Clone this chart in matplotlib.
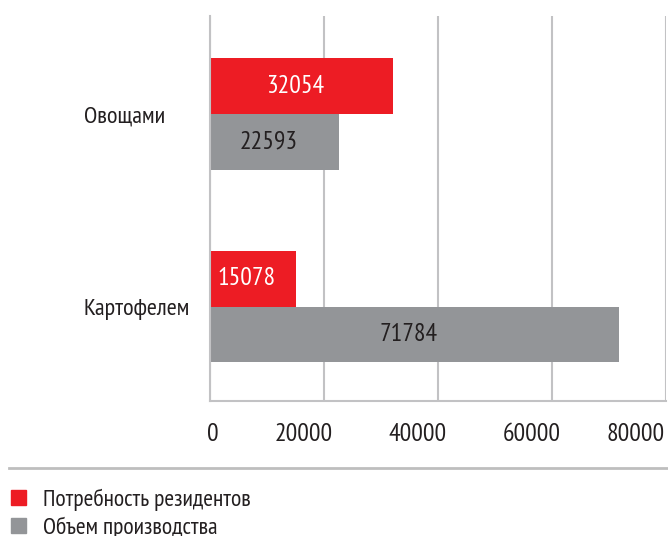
import matplotlib
matplotlib.use("Agg")
import matplotlib.pyplot as plt
import matplotlib.transforms as mtransforms
from matplotlib.lines import Line2D
from matplotlib.patches import Patch

plt.rcParams['font.family'] = ['PT Sans Narrow', 'DejaVu Sans']

# data
categories = ["Картофелем", "Овощами"]
series_names = ["Потребность резидентов", "Объем производства"]
demand = [15078, 32054]
production = [71784, 22593]
x_ticks = [0, 20000, 40000, 60000, 80000]

red = "#ed1c24"
grey = "#939598"
text_col = "#231f20"
grid_col = "#c2c2c4"

W, H = 668, 536
fig = plt.figure(figsize=(W / 100, H / 100), dpi=100)
ax = fig.add_axes([210 / W, 1 - 401 / H, 456 / W, 385 / H])

ypos = list(range(len(categories)))
h = 0.29
bars_red = ax.barh([y + h / 2 for y in ypos], demand, height=h, color=red)
bars_grey = ax.barh([y - h / 2 for y in ypos], production, height=h, color=grey)

lab_red = ax.bar_label(bars_red, labels=[str(v) for v in demand], label_type="center",
                       color="white", fontsize=18.5)
lab_grey = ax.bar_label(bars_grey, labels=[str(v) for v in production], label_type="center",
                        color=text_col, fontsize=18.5)
# labels in the original sit a little left of the bar centre
for t in list(lab_red) + list(lab_grey):
    t.xyann = (-4.5, 0)

ax.set_xlim(0, 80000)
ax.set_ylim(-0.49, 1.51)
ax.set_xticks(x_ticks)
ax.set_xticklabels([str(t) for t in x_ticks], fontsize=18.5, color=text_col, ha="right")
ax.set_yticks(ypos)
ax.set_yticklabels(categories, fontsize=17.5, color=text_col, ha="left")
ax.tick_params(axis="both", length=0)
ax.tick_params(axis="x", pad=16)
ax.tick_params(axis="y", pad=91)

# nudge x tick labels like the original (last one kept inside the canvas)
xlabels = ax.get_xticklabels()
for i, lab in enumerate(xlabels):
    dx = 0.09 if i < len(xlabels) - 1 else -0.01
    lab.set_transform(lab.get_transform() +
                      mtransforms.ScaledTranslation(dx, 0, fig.dpi_scale_trans))

ax.grid(axis="x", color=grid_col, linewidth=1.5)
ax.set_axisbelow(True)
for side in ["top", "right"]:
    ax.spines[side].set_visible(False)
for side in ["left", "bottom"]:
    ax.spines[side].set_color(grid_col)
    ax.spines[side].set_linewidth(1.5)

# separator line above legend
fig.add_artist(Line2D([9 / W, 1.0], [1 - 468 / H] * 2,
                      transform=fig.transFigure, color="#bebebe", linewidth=2))

handles = [Patch(color=red), Patch(color=grey)]
leg_y = 1 - 486 / H
leg = fig.legend(handles, series_names, loc="upper left",
                 bbox_to_anchor=(11 / W, leg_y), frameon=False,
                 fontsize=17, handlelength=0.64, handleheight=0.6,
                 handletextpad=0.72, labelspacing=0.23, borderaxespad=0.0,
                 borderpad=0.0, labelcolor=text_col)

# put the first legend row's baseline where it is in the original (y=506 from top)
fig.canvas.draw()
r = fig.canvas.get_renderer()
t0 = leg.get_texts()[0]
bb = t0.get_window_extent(r)
_, _, desc = r.get_text_width_height_descent(t0.get_text(), t0.get_fontproperties(), ismath=False)
shift = (H - 506) - (bb.y0 + desc)
leg.set_bbox_to_anchor((11 / W, leg_y + shift / H), transform=fig.transFigure)

fig.savefig("out.png", dpi=100)
